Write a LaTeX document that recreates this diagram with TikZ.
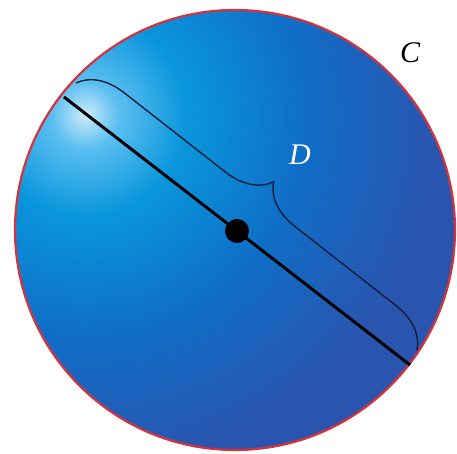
\documentclass[tikz,border=0pt]{standalone}
\usepackage{fontspec}
\setmainfont{Liberation Serif}
\usetikzlibrary{decorations.pathreplacing}
\definecolor{hl}{RGB}{205,235,250}
\definecolor{ga}{RGB}{90,190,240}
\definecolor{gb}{RGB}{10,150,220}
\definecolor{gc}{RGB}{15,110,200}
\definecolor{gd}{RGB}{42,85,175}
\definecolor{ge}{RGB}{45,80,168}
\definecolor{rim}{RGB}{215,50,60}
\definecolor{bracecol}{RGB}{20,30,55}
\pgfdeclareradialshading{glow}{\pgfpoint{0bp}{0bp}}{color(0bp)=(hl); color(2bp)=(ga); color(6bp)=(gb); color(13bp)=(gc); color(21bp)=(gd); color(50bp)=(ge)}
\begin{document}
\begin{tikzpicture}[x=1pt,y=1pt,
  lbl/.style={font=\fontsize{30}{32}\selectfont\itshape, text=black, inner sep=0pt},
  dlbl/.style={lbl, text=white},
  diam/.style={line width=3pt, black},
  bracestyle/.style={draw=bracecol, line width=1.4pt, decorate, decoration={brace, amplitude=44pt}}]
\useasboundingbox (0,0) rectangle (457,454);
\coordinate (O) at (235,224);
\begin{scope}
  \clip (O) circle (220);
  \shade[shading=glow] (85,339) circle (420);
\end{scope}
\draw[rim, line width=2.2pt] (O) circle (220);
\coordinate (A) at (64,357);
\coordinate (B) at (410,89);
\draw[diam] (A) -- (B);
\node[circle, fill=black, minimum size=24pt, inner sep=0pt] (dot) at (237,223) {};
\coordinate (bs) at (76,371);
\coordinate (be) at (417,104);
\draw[bracestyle] (bs) -- (be);
\node[dlbl] (D) at (300,299) {D};
\node[lbl] (C) at (410,401) {C};
\end{tikzpicture}
\end{document}
